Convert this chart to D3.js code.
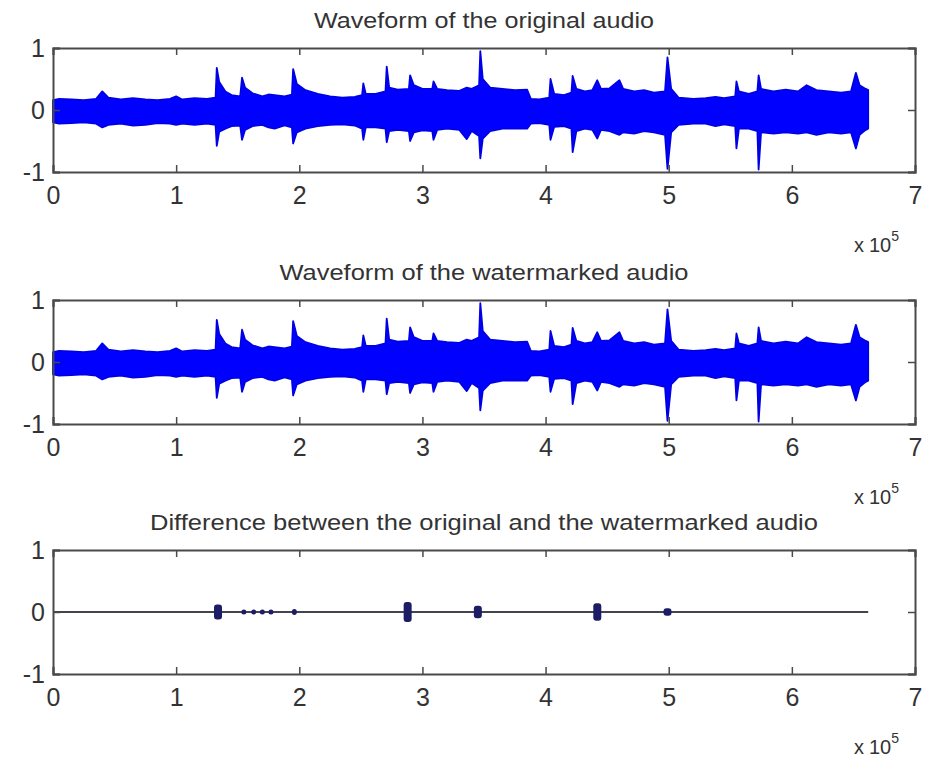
<!DOCTYPE html>
<html>
<head>
<meta charset="utf-8">
<script src="https://cdn.jsdelivr.net/npm/d3@7"></script>
<style>
  html, body { margin: 0; padding: 0; background: #fff; }
  svg { display: block; }
  text { font-family: "Liberation Sans", Arial, sans-serif; fill: #333; }
</style>
</head>
<body>
<svg id="chart" width="929" height="757"></svg>
<script>
// ---------- DATA ----------
const titles = [
  "Waveform of the original audio",
  "Waveform of the watermarked audio",
  "Difference between the original and the watermarked audio"
];
const titleWidths = [340, 409, 668];
const xTicks = [0, 1, 2, 3, 4, 5, 6, 7];
const yTicks = [-1, 0, 1];
const xExponent = "5";

// Envelope of the original audio (sample index in units of 10^5)
const envX = [0.00,0.05,0.15,0.25,0.35,0.40,0.45,0.55,0.65,0.75,0.85,0.95,1.00,1.05,1.15,1.25,1.32,1.33,1.35,1.40,
  1.45,1.52,1.535,1.56,1.62,1.70,1.75,1.80,1.88,1.94,1.95,1.98,2.05,2.15,2.25,2.35,2.45,2.51,2.52,2.54,
  2.62,2.70,2.71,2.73,2.80,2.89,2.90,2.93,3.00,3.08,3.09,3.12,3.20,3.30,3.36,3.40,3.46,3.47,3.49,3.55,
  3.65,3.75,3.85,3.88,3.95,4.03,4.04,4.07,4.15,4.21,4.22,4.25,4.32,4.38,4.42,4.45,4.52,4.60,4.63,4.72,
  4.80,4.88,4.97,4.99,5.02,5.08,5.20,5.30,5.38,5.45,5.54,5.55,5.57,5.65,5.72,5.73,5.75,5.85,5.95,6.05,
  6.12,6.20,6.30,6.40,6.48,6.52,6.55,6.60,6.62];
const envUpper = [0.16,0.18,0.17,0.16,0.18,0.30,0.20,0.17,0.19,0.17,0.16,0.18,0.22,0.17,0.19,0.18,0.20,0.68,0.45,0.30,
  0.24,0.22,0.52,0.36,0.27,0.22,0.25,0.24,0.22,0.25,0.66,0.42,0.32,0.26,0.22,0.20,0.21,0.24,0.43,0.26,
  0.26,0.30,0.70,0.36,0.33,0.34,0.56,0.40,0.34,0.34,0.46,0.34,0.32,0.31,0.36,0.34,0.40,0.95,0.50,0.36,
  0.34,0.32,0.33,0.18,0.17,0.20,0.50,0.26,0.24,0.28,0.55,0.34,0.30,0.32,0.48,0.34,0.35,0.48,0.34,0.30,
  0.32,0.28,0.30,0.85,0.34,0.20,0.18,0.19,0.21,0.19,0.22,0.46,0.30,0.26,0.30,0.56,0.34,0.30,0.33,0.30,
  0.40,0.32,0.30,0.28,0.30,0.60,0.40,0.34,0.32];
const envLower = [-0.20,-0.22,-0.21,-0.20,-0.22,-0.28,-0.24,-0.22,-0.25,-0.24,-0.21,-0.22,-0.24,-0.22,-0.24,-0.22,-0.24,-0.58,-0.35,-0.30,
  -0.26,-0.25,-0.48,-0.32,-0.26,-0.24,-0.28,-0.30,-0.25,-0.28,-0.54,-0.36,-0.30,-0.26,-0.24,-0.23,-0.25,-0.30,-0.48,-0.28,
  -0.28,-0.30,-0.52,-0.34,-0.32,-0.34,-0.50,-0.36,-0.33,-0.34,-0.48,-0.32,-0.30,-0.32,-0.47,-0.34,-0.42,-0.78,-0.46,-0.34,
  -0.30,-0.30,-0.30,-0.22,-0.21,-0.24,-0.48,-0.27,-0.26,-0.30,-0.68,-0.34,-0.30,-0.32,-0.46,-0.32,-0.34,-0.40,-0.36,-0.38,
  -0.34,-0.36,-0.40,-0.95,-0.36,-0.24,-0.22,-0.22,-0.26,-0.23,-0.26,-0.62,-0.30,-0.30,-0.34,-0.96,-0.36,-0.38,-0.36,-0.38,
  -0.36,-0.40,-0.36,-0.38,-0.36,-0.62,-0.40,-0.32,-0.30];

// Watermarked audio: visually identical envelope
const wmUpper = envUpper.slice();
const wmLower = envLower.slice();

// Difference signal: flat at zero, with short bursts
const diffEnd = 6.62;
const diffX   = [1.34, 1.55, 1.63, 1.70, 1.77, 1.96, 2.88, 3.45, 4.42, 4.99];
const diffAmp = [0.12, 0.04, 0.02, 0.02, 0.02, 0.05, 0.16, 0.10, 0.14, 0.06];

// ---------- LAYOUT ----------
const svg = d3.select("#chart");
svg.append("rect").attr("width", 929).attr("height", 757).attr("fill", "#fff");

const left = 53, right = 915, plotH = 124;
const tops = [48, 300, 550];
const x = d3.scaleLinear().domain([0, 7]).range([left, right]);
const axisColor = "#4a4a4a";
const tickLen = 7;
const fmt = d => String(d);

function panel(i) {
  const top = tops[i];
  const y = d3.scaleLinear().domain([-1, 1]).range([top + plotH, top]);
  const g = svg.append("g");
  return { g, y, top };
}

function frame(p, i) {
  const { g, y, top } = p;
  g.append("text").attr("x", (left + right) / 2).attr("y", top - 20)
    .attr("text-anchor", "middle").attr("font-size", 22)
    .attr("textLength", titleWidths[i]).attr("lengthAdjust", "spacingAndGlyphs")
    .text(titles[i]);
  const bottomAxis = d3.axisBottom(x).tickValues(xTicks).tickSize(-tickLen).tickPadding(8).tickFormat(fmt);
  const topAxis = d3.axisTop(x).tickValues(xTicks).tickSize(-tickLen).tickFormat("");
  const leftAxis = d3.axisLeft(y).tickValues(yTicks).tickSize(-tickLen).tickPadding(8).tickFormat(fmt);
  const rightAxis = d3.axisRight(y).tickValues(yTicks).tickSize(-tickLen).tickFormat("");
  const gb = g.append("g").attr("transform", `translate(0,${top + plotH})`).call(bottomAxis);
  const gt = g.append("g").attr("transform", `translate(0,${top})`).call(topAxis);
  const gl = g.append("g").attr("transform", `translate(${left},0)`).call(leftAxis);
  const gr = g.append("g").attr("transform", `translate(${right},0)`).call(rightAxis);
  [gb, gt, gl, gr].forEach(a => {
    a.select(".domain").attr("stroke", axisColor).attr("stroke-width", 2);
    a.selectAll(".tick line").attr("stroke", axisColor).attr("stroke-width", 1.5);
    a.selectAll(".tick text").attr("fill", "#333").attr("font-size", 25)
      .attr("font-family", "'Liberation Sans', Arial, sans-serif");
  });
  gl.selectAll(".tick text").attr("dy", "0.35em");
  gb.selectAll(".tick text").attr("dy", "0.95em");
  const ex = g.append("text").attr("x", 854).attr("y", top + plotH + 80).attr("font-size", 20);
  ex.append("tspan").text("x");
  ex.append("tspan").attr("dx", 5).text("10");
  ex.append("tspan").attr("dy", -11).attr("font-size", 14).text(xExponent);
}

// Panels 1 & 2: waveforms
[[envUpper, envLower], [wmUpper, wmLower]].forEach((d, i) => {
  const p = panel(i);
  const pts = envX.map((v, k) => ({ x: v, hi: d[0][k], lo: d[1][k] }));
  const area = d3.area().x(q => x(q.x)).y0(q => p.y(q.lo)).y1(q => p.y(q.hi));
  p.g.append("path").datum(pts).attr("d", area)
    .attr("fill", "#0000ff").attr("stroke", "#0000e6").attr("stroke-width", 1.8)
    .attr("stroke-linejoin", "round");
  frame(p, i);
});

// Panel 3: difference
{
  const p = panel(2);
  p.g.append("line").attr("x1", x(0)).attr("x2", x(diffEnd))
    .attr("y1", p.y(0)).attr("y2", p.y(0))
    .attr("stroke", "#44444f").attr("stroke-width", 2);
  p.g.selectAll("rect.burst").data(diffX.map((v, k) => ({ x: v, a: diffAmp[k] })))
    .enter().append("rect").attr("class", "burst")
    .attr("x", d => x(d.x) - (d.a > 0.05 ? 4 : 2.5))
    .attr("width", d => d.a > 0.05 ? 8 : 5)
    .attr("y", d => Math.min(p.y(d.a), p.y(0) - 2.5))
    .attr("height", d => Math.max(p.y(-d.a) - p.y(d.a), 5))
    .attr("rx", 3).attr("fill", "#1d1d66");
  frame(p, 2);
}
</script>
</body>
</html>
